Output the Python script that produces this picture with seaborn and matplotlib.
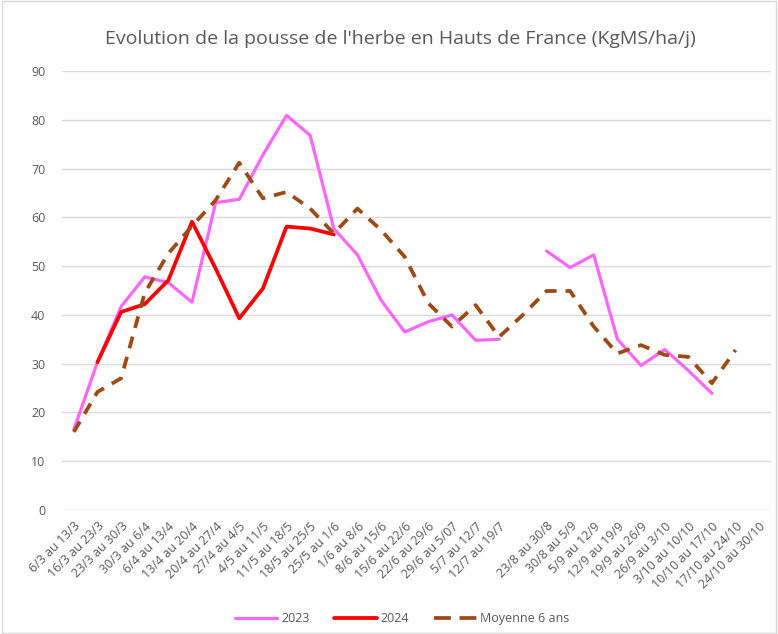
import pandas as pd
import matplotlib.pyplot as plt
import seaborn as sns
from matplotlib.lines import Line2D
from matplotlib.patches import Rectangle

semaines = ['6/3 au 13/3', '16/3 au 23/3', '23/3 au 30/3', '30/3 au 6/4', '6/4 au 13/4',
            '13/4 au 20/4', '20/4 au 27/4', '27/4 au 4/5', '4/5 au 11/5', '11/5 au 18/5',
            '18/5 au 25/5', '25/5 au 1/6', '1/6 au 8/6', '8/6 au 15/6', '15/6 au 22/6',
            '22/6 au 29/6', '29/6 au 5/07', '5/7 au 12/7', '12/7 au 19/7', '',
            '23/8 au 30/8', '30/8 au 5/9', '5/9 au 12/9', '12/9 au 19/9', '19/9 au 26/9',
            '26/9 au 3/10', '3/10 au 10/10', '10/10 au 17/10', '17/10 au 24/10', '24/10 au 30/10']

pousse_2023 = [16.5, 30.3, 41.7, 47.8, 46.6, 42.6, 63.0, 63.7, 72.8, 80.9,
               76.8, 57.7, 52.3, 43.0, 36.5, 38.6, 40.0, 34.8, 35.0, None,
               53.1, 49.7, 52.3, 35.0, 29.6, 32.9, 28.6, 23.9, None, None]
pousse_2024 = [None, 30.3, 40.6, 42.2, 47.1, 59.1, 49.5, 39.3, 45.4, 58.1,
               57.7, 56.5] + [None] * 18
moyenne_6ans = [16.0, 24.2, 27.0, 44.5, 52.6, 58.2, 63.5, 71.2, 63.9, 65.2,
                61.8, 56.7, 61.8, 57.4, 51.9, 42.4, 37.6, 42.0, 35.5, 40.0,
                44.9, 44.9, 37.6, 32.1, 33.8, 31.8, 31.4, 26.0, 32.8, None]

rose, rouge, brun = '#FF66FF', '#FF0000', '#9E4A14'
gris = '#595959'

sns.set_style('white')
plt.rcParams['font.family'] = ['Open Sans', 'DejaVu Sans']

df = pd.DataFrame({'x': range(len(semaines)), '2023': pousse_2023,
                   '2024': pousse_2024, 'moy': moyenne_6ans})
# segments pour garder le trou de fin juillet / aout
df['seg'] = (df['2023'].isna()).cumsum()

fig = plt.figure(figsize=(7.78, 6.34), dpi=100)
ax = fig.add_axes([0.0797, 0.1956, 0.9113, 0.6924])

d23 = df.dropna(subset=['2023'])
sns.lineplot(data=d23, x='x', y='2023', units='seg', estimator=None,
             color=rose, lw=2.3, ax=ax)
sns.lineplot(data=df.dropna(subset=['2024']), x='x', y='2024', color=rouge, lw=2.7, ax=ax)
sns.lineplot(data=df.dropna(subset=['moy']), x='x', y='moy', color=brun, lw=2.7,
             dashes=(3.2, 2.4), ax=ax)

ax.set_xlim(-0.5, len(semaines) - 0.5)
ax.set_ylim(0, 90)
ax.set_yticks(range(0, 91, 10))
ax.set_xticks(range(len(semaines)))
ax.set_xticklabels(semaines, rotation=45, ha='right', rotation_mode='anchor')
ax.tick_params(axis='both', colors=gris, labelsize=9, length=0)
ax.tick_params(axis='y', pad=12)
ax.tick_params(axis='x', pad=7)
ax.set_xlabel('')
ax.set_ylabel('')
ax.grid(axis='y', color='#D9D9D9', lw=1)
for s in ax.spines.values():
    s.set_visible(False)

fig.suptitle("Evolution de la pousse de l'herbe en Hauts de France (KgMS/ha/j)",
             x=0.515, y=0.952, fontsize=14, color=gris)

handles = [Line2D([], [], color=rose, lw=2.3),
           Line2D([], [], color=rouge, lw=2.7),
           Line2D([], [], color=brun, lw=2.7, dashes=(4.5, 2.3))]
fig.legend(handles, ['2023', '2024', 'Moyenne 6 ans'], loc='center', ncol=3,
           bbox_to_anchor=(0.517, 0.024), frameon=False, fontsize=9,
           labelcolor=gris, handlelength=3.4, handletextpad=0.3, columnspacing=2.0)

fig.patches.append(Rectangle((0.002, 0.002), 0.996, 0.996, transform=fig.transFigure,
                             fill=False, edgecolor='#D9D9D9', lw=1))

plt.savefig('out.png', dpi=100)
